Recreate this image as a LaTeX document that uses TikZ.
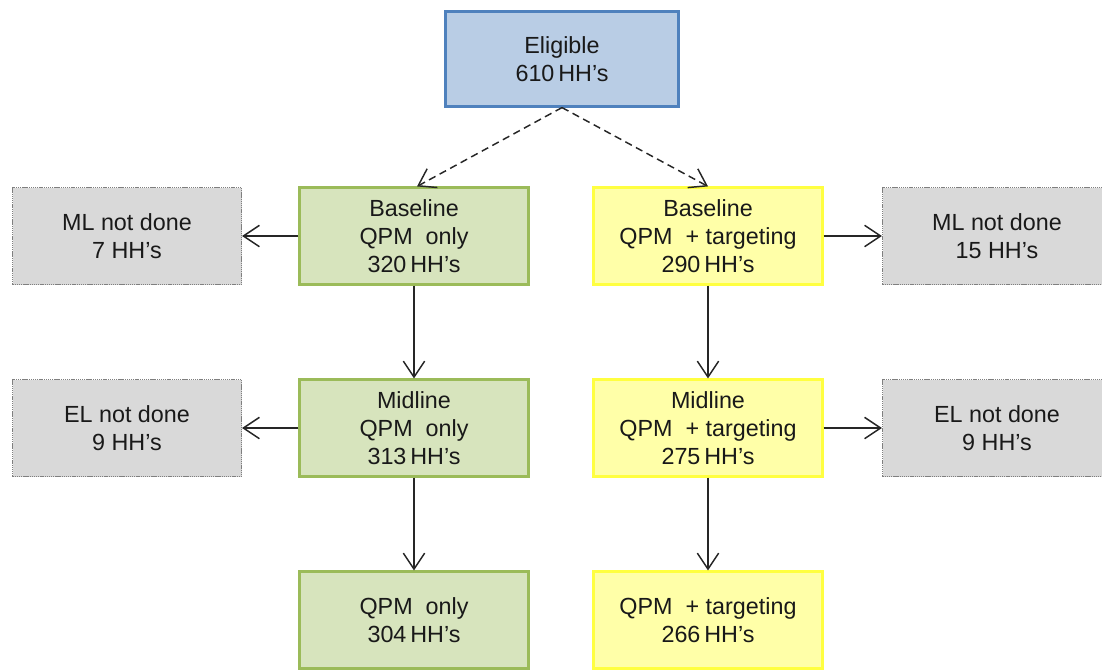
\documentclass[tikz,border=0pt]{standalone}
\usepackage{fontspec}
\setmainfont{Liberation Sans}
\usetikzlibrary{arrows.meta}
\definecolor{topfill}{HTML}{B9CDE5}
\definecolor{topline}{HTML}{4F81BD}
\definecolor{grnfill}{HTML}{D7E4BD}
\definecolor{grnline}{HTML}{9BBB59}
\definecolor{yelfill}{HTML}{FFFFA8}
\definecolor{yelline}{HTML}{FFFF40}
\definecolor{gryfill}{HTML}{D9D9D9}
\definecolor{gryline}{HTML}{7F7F7F}
\newdimen\px \px=0.75pt
\tikzset{
  box/.style={draw, line width=1.6pt, minimum width=229\px, minimum height=97\px,
    inner sep=0pt, align=center, font=\fontsize{17.5}{21}\selectfont, text=black!90},
  topbox/.style={box, fill=topfill, draw=topline, minimum width=233\px, minimum height=95\px},
  grnbox/.style={box, fill=grnfill, draw=grnline},
  yelbox/.style={box, fill=yelfill, draw=yelline},
  grybox/.style={box, fill=gryfill, draw=gryline, line width=0.9pt, dash pattern=on 1pt off 0.6pt},
  link/.style={line width=1.1pt, black!85, -{Straight Barb[length=12pt,width=16pt,line width=1.1pt]}},
  dlink/.style={link, dash pattern=on 5.5pt off 3.5pt}
}
\begin{document}
\begin{tikzpicture}[x=0.75pt, y=-0.75pt]
\useasboundingbox (0,0) rectangle (1102,669);
% top
\node[topbox] (elig) at (562,59) {Eligible\\610\,HH’s};
% left column
\node[grnbox] (gb) at (414,236) {Baseline\\QPM \ only\\320\,HH’s};
\node[grnbox] (gm) at (414,428) {Midline\\QPM \ only\\313\,HH’s};
\node[grnbox] (ge) at (414,620) {QPM \ only\\304\,HH’s};
% right column
\node[yelbox] (yb) at (708,236) {Baseline\\QPM \ + targeting\\290\,HH’s};
\node[yelbox] (ym) at (708,428) {Midline\\QPM \ + targeting\\275\,HH’s};
\node[yelbox] (ye) at (708,620) {QPM \ + targeting\\266\,HH’s};
% drop-outs
\node[grybox] (lml) at (127,236) {ML not done\\7 HH’s};
\node[grybox] (lel) at (127,428) {EL not done\\9 HH’s};
\node[grybox] (rml) at (997,236) {ML not done\\15 HH’s};
\node[grybox] (rel) at (997,428) {EL not done\\9 HH’s};
% connectors
\draw[dlink] (elig.south) -- ([xshift=3\px]gb.north);
\draw[dlink] (elig.south) -- (yb.north);
\draw[link] (gb) -- (lml);
\draw[link] (gm) -- (lel);
\draw[link] (yb) -- (rml);
\draw[link] (ym) -- (rel);
\draw[link] (gb) -- (gm);
\draw[link] (gm) -- (ge);
\draw[link] (yb) -- (ym);
\draw[link] (ym) -- (ye);
\end{tikzpicture}
\end{document}
